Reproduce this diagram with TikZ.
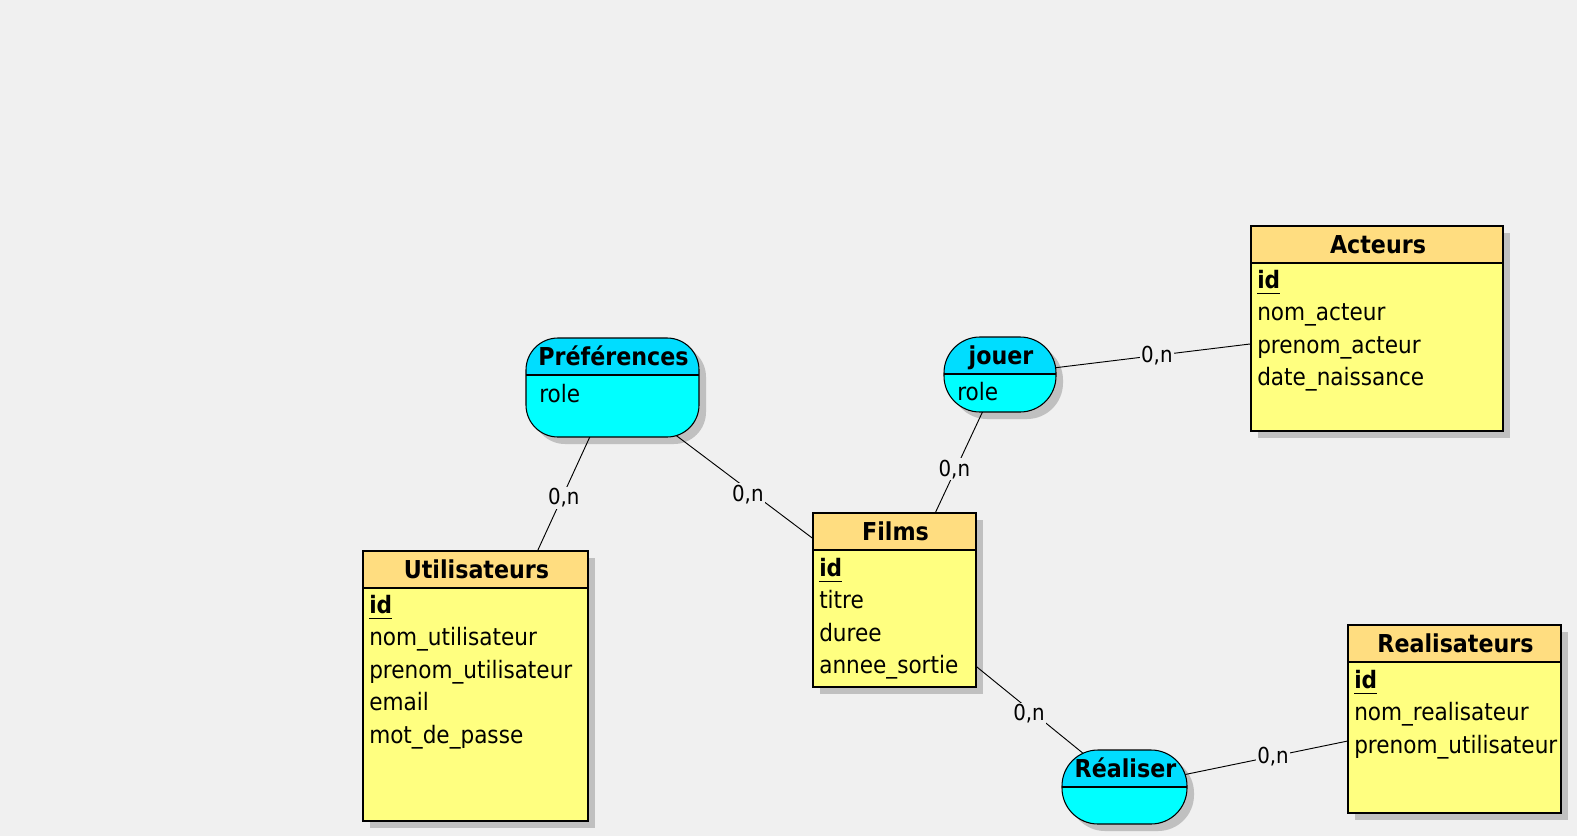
\documentclass[tikz,border=0pt]{standalone}
\usepackage{fontspec}
\setmainfont{DejaVu Sans Condensed}
\usetikzlibrary{fit,calc}

\definecolor{page}{HTML}{F0F0F0}
\definecolor{enthead}{HTML}{FFDD80}
\definecolor{entbody}{HTML}{FFFF80}
\definecolor{ashead}{HTML}{00DDFF}
\definecolor{asbody}{HTML}{00FFFF}
\definecolor{shadowgrey}{HTML}{C0C0C0}

\pgfdeclarelayer{paper}
\pgfdeclarelayer{shadows}
\pgfdeclarelayer{links}
\pgfsetlayers{paper,shadows,links,main}

\tikzset{
  box/.style={inner sep=0pt, outer sep=0pt},
  title/.style={font=\bfseries\fontsize{18.5}{18.5}\selectfont, anchor=base, inner sep=0pt},
  attr/.style={font=\fontsize{18}{18}\selectfont, anchor=base west, inner sep=0pt},
  keyattr/.style={attr, font=\bfseries\fontsize{18}{18}\selectfont},
  card/.style={font=\fontsize{16.5}{16.5}\selectfont, fill=page, inner sep=1.2pt},
  link/.style={draw=black, line width=0.7pt},
  outline/.style={draw=black, line width=0.8pt}
}

% entity: name, x1, y1, x2, y2, title
\newcommand\entity[6]{%
  \node[box, fit={(#2,#3)(#4,#5)}] (#1) {};
  \begin{pgfonlayer}{shadows}
    \fill[shadowgrey] (#2+7,#3+7) rectangle (#4+7,#5+7);
  \end{pgfonlayer}
  \fill[entbody] (#2,#3) rectangle (#4,#5);
  \fill[enthead] (#2,#3) rectangle (#4,#3+37);
  \draw[outline] (#2,#3+37) -- (#4,#3+37);
  \draw[outline] (#2,#3) rectangle (#4,#5);
  \node[title] (#1-title) at ({(#2+#4)/2+1},#3+27) {#6};
}

% relation: name, x1, y1, x2, y2, corner radius, title
\newcommand\relation[7]{%
  \node[box, fit={(#2,#3)(#4,#5)}] (#1) {};
  \begin{pgfonlayer}{shadows}
    \fill[shadowgrey, rounded corners=#6] (#2+7,#3+7) rectangle (#4+7,#5+7);
  \end{pgfonlayer}
  \begin{scope}
    \clip[rounded corners=#6] (#2,#3) rectangle (#4,#5);
    \fill[asbody] (#2,#3) rectangle (#4,#5);
    \fill[ashead] (#2,#3) rectangle (#4,#3+37);
  \end{scope}
  \draw[outline] (#2,#3+37) -- (#4,#3+37);
  \draw[outline, rounded corners=#6] (#2,#3) rectangle (#4,#5);
  \node[title] (#1-title) at ({(#2+#4)/2+1},#3+27) {#7};
}

% underlined identifier
\newcommand\keyline[1]{%
  \draw[line width=1pt] ($(#1.base west)+(0,5.5)$) -- ($(#1.base east)+(0,5.5)$);
}

\begin{document}
\begin{tikzpicture}[x=0.75pt, y=-0.75pt]
  \begin{pgfonlayer}{paper}
    \fill[page] (0,0) rectangle (1577,836);
  \end{pgfonlayer}
  \useasboundingbox (0,0) rectangle (1577,836);

  % entities
  \entity{acteurs}{1251}{226}{1503}{431}{Acteurs}
  \node[keyattr] (acteurs-id) at (1257,288) {id};
  \keyline{acteurs-id}
  \node[attr] (acteurs-nom) at (1257,320.5) {nom\_acteur};
  \node[attr] (acteurs-prenom) at (1257,353) {prenom\_acteur};
  \node[attr] (acteurs-date) at (1257,385.5) {date\_naissance};

  \entity{films}{813}{513}{976}{687}{Films}
  \node[keyattr] (films-id) at (819,576) {id};
  \keyline{films-id}
  \node[attr] (films-titre) at (819,608.5) {titre};
  \node[attr] (films-duree) at (819,641) {duree};
  \node[attr] (films-annee) at (819,673.5) {annee\_sortie};

  \entity{users}{363}{551}{588}{821}{Utilisateurs}
  \node[keyattr] (users-id) at (369,613) {id};
  \keyline{users-id}
  \node[attr] (users-nom) at (369,645.5) {nom\_utilisateur};
  \node[attr] (users-prenom) at (369,678) {prenom\_utilisateur};
  \node[attr] (users-email) at (369,710.5) {email};
  \node[attr] (users-mdp) at (369,743) {mot\_de\_passe};

  \entity{real}{1348}{625}{1561}{813}{Realisateurs}
  \node[keyattr] (real-id) at (1354,688) {id};
  \keyline{real-id}
  \node[attr] (real-nom) at (1354,720.5) {nom\_realisateur};
  \node[attr] (real-prenom) at (1354,753) {prenom\_utilisateur};

  % relations
  \relation{pref}{526}{338}{699}{437}{24pt}{Préférences}
  \node[attr] (pref-role) at (539,402) {role};

  \relation{jouer}{944}{337}{1056}{412}{27pt}{jouer}
  \node[attr] (jouer-role) at (957,400) {role};

  \relation{realiser}{1062}{750}{1187}{824}{27pt}{Réaliser}

  % links with cardinalities
  \begin{pgfonlayer}{links}
    \draw[link] (pref.center) -- node[card, pos=0.37, xshift=1.5pt] (c-pref-users) {0,n} (users.center);
    \draw[link] (pref.center) -- node[card, pos=0.48, yshift=-3.5pt] (c-pref-films) {0,n} (films.center);
    \draw[link] (jouer.center) -- node[card, pos=0.42, xshift=-1pt] (c-jouer-films) {0,n} (films.center);
    \draw[link] (jouer.center) -- node[card, pos=0.416] (c-jouer-acteurs) {0,n} (acteurs.center);
    \draw[link] (films.center) -- node[card, pos=0.585, yshift=-3.5pt] (c-films-realiser) {0,n} (realiser.center);
    \draw[link] (realiser.center) -- node[card, pos=0.444, xshift=1.5pt] (c-realiser-real) {0,n} (real.center);
  \end{pgfonlayer}
\end{tikzpicture}
\end{document}
